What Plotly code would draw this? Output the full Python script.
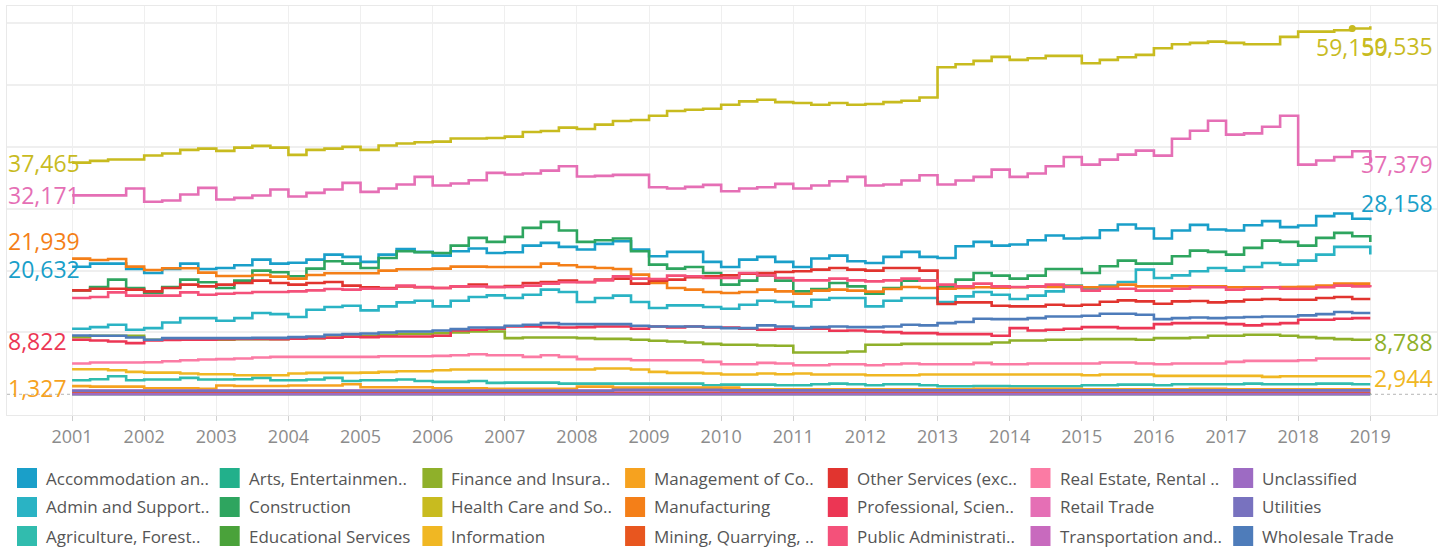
import plotly.graph_objects as go

# ---------------- data (quarterly, 2001 Q1 .. 2019 Q1) ----------------
YEARS = list(range(2001, 2020))
QUARTERS = [f"{y} Q{q}" for y in range(2001, 2019) for q in (1, 2, 3, 4)] + ["2019 Q1"]

INDUSTRIES = [
    "Accommodation and Food Services", "Admin and Support and Waste Management",
    "Agriculture, Forestry, Fishing and Hunting", "Arts, Entertainment, and Recreation",
    "Construction", "Educational Services", "Finance and Insurance",
    "Health Care and Social Assistance", "Information", "Management of Companies and Enterprises",
    "Manufacturing", "Mining, Quarrying, and Oil and Gas Extraction",
    "Other Services (except Public Administration)", "Professional, Scientific, and Technical Services",
    "Public Administration", "Real Estate, Rental and Leasing", "Retail Trade",
    "Transportation and Warehousing", "Unclassified", "Utilities", "Wholesale Trade",
]
LEGEND_LABELS = [
    "Accommodation an..", "Admin and Support..", "Agriculture, Forest..",
    "Arts, Entertainmen..", "Construction", "Educational Services",
    "Finance and Insura..", "Health Care and So..", "Information",
    "Management of Co..", "Manufacturing", "Mining, Quarrying, ..",
    "Other Services (exc..", "Professional, Scien..", "Public Administrati..",
    "Real Estate, Rental ..", "Retail Trade", "Transportation and..",
    "Unclassified", "Utilities", "Wholesale Trade",
]
COLORS = [
    "#1a9fc9", "#2ab3c4", "#31bcae", "#22b08b", "#2ea55f", "#4aa23a", "#8fb02a",
    "#c8bb1f", "#f0b723", "#f6a21f", "#f47f18", "#e8561f", "#e1342f", "#ec3654",
    "#f4517a", "#fb7ba4", "#e56fb5", "#c86abe", "#9d6bc3", "#7872bf", "#4e7cba",
]

accommodation = [
    20632, 21140, 21140, 20270, 19620, 20270, 21140, 20270, 20430, 20860, 21780, 21140,
    21270, 21780, 22590, 22220, 21410, 22590, 23510, 23030, 22430, 23130, 23570, 22860,
    22970, 24050, 24490, 23840, 23410, 24320, 24760, 23410, 22320, 23030, 23030, 21410,
    20590, 21780, 22220, 21410, 20590, 21950, 22430, 21510, 21240, 22220, 23030, 22220,
    22050, 23950, 24650, 24050, 24220, 24920, 25680, 25190, 25300, 26540, 27460, 26810,
    25190, 26490, 27400, 26650, 26490, 27350, 28000, 27030, 27300, 28810, 29240, 28380,
    28158]
admin_support = [
    10600, 10870, 11240, 10430, 10700, 11620, 12320, 12320, 11890, 12320, 13140, 12970,
    12490, 13680, 14110, 14320, 13570, 14220, 14870, 15140, 14220, 15140, 15730, 16000,
    15570, 16110, 16920, 16540, 14920, 15570, 15950, 14920, 13950, 14380, 14380, 14110,
    13840, 14490, 15140, 14920, 14220, 15300, 15570, 15570, 14220, 15140, 15570, 15570,
    14920, 15840, 16540, 16110, 15410, 15950, 16650, 17570, 17030, 17570, 18160, 20160,
    18810, 19240, 19890, 20430, 20000, 20590, 21240, 20970, 21620, 22590, 23840, 23840,
    22590]
agriculture = [
    2270, 2430, 2920, 2270, 2380, 2380, 2650, 2380, 2380, 2430, 2650, 2270,
    2270, 2380, 2650, 2160, 2270, 2270, 2380, 2160, 2000, 2000, 2160, 1840,
    1890, 1890, 1890, 1730, 1730, 1730, 1730, 1730, 1730, 1730, 1730, 1460,
    1570, 1570, 1570, 1460, 1460, 1620, 1730, 1620, 1460, 1620, 1620, 1460,
    1300, 1300, 1350, 1350, 1300, 1300, 1300, 1300, 1460, 1460, 1570, 1570,
    1460, 1620, 1620, 1620, 1620, 1730, 1620, 1620, 1620, 1730, 1730, 1620,
    1620]
arts = [
    60, 60, 60, 60, 60, 60, 60, 60, 60, 60, 60, 60, 60, 60, 60, 60, 60, 60, 60, 60,
    60, 60, 60, 60, 60, 60, 60, 60, 60, 60, 60, 60, 60, 60, 60, 60, 60, 60, 60, 60,
    60, 60, 60, 60, 60, 60, 60, 60, 60, 60, 60, 60, 60, 60, 60, 60, 60, 60, 60, 60,
    60, 60, 60, 60, 60, 60, 60, 60, 60, 60, 60, 60, 60]
construction = [
    16800, 17350, 18540, 17190, 16380, 17350, 18540, 18110, 17190, 18380, 20000, 19730,
    19080, 20320, 21510, 21140, 20430, 22050, 23130, 22970, 22860, 24050, 25300, 24650,
    25460, 26920, 27890, 26490, 24650, 24920, 25190, 23130, 20970, 20320, 20590, 19620,
    17730, 18380, 19190, 18380, 16650, 17030, 18000, 17460, 16270, 17190, 18380, 18380,
    17350, 18540, 19620, 19190, 18700, 19190, 20270, 20270, 19620, 20700, 21620, 21140,
    21140, 22320, 23240, 23030, 22590, 23680, 24860, 24650, 24050, 25300, 26110, 25570,
    24650]
educational = [
    40, 40, 40, 40, 40, 40, 40, 40, 40, 40, 40, 40, 40, 40, 40, 40, 40, 40, 40, 40,
    40, 40, 40, 40, 40, 40, 40, 40, 40, 40, 40, 40, 40, 40, 40, 40, 40, 40, 40, 40,
    40, 40, 40, 40, 40, 40, 40, 40, 40, 40, 40, 40, 40, 40, 40, 40, 40, 40, 40, 40,
    40, 40, 40, 40, 40, 40, 40, 40, 40, 40, 40, 40, 40]
finance = [
    9240, 9460, 9460, 9460, 8810, 8810, 8810, 8810, 8810, 8920, 8920, 8920,
    9080, 9080, 9190, 9350, 9460, 9620, 9780, 9780, 9890, 10000, 10160, 10160,
    9080, 9190, 9190, 9190, 9080, 8970, 8970, 8810, 8650, 8540, 8380, 8160,
    8000, 8000, 7890, 7840, 6760, 6760, 6760, 6920, 8000, 8000, 8160, 8160,
    8160, 8160, 8160, 8380, 8700, 8700, 8810, 8810, 8920, 8920, 8920, 8810,
    9080, 9080, 9190, 9460, 9460, 9620, 9620, 9460, 9240, 9080, 8920, 8810,
    8788]
health = [
    37465, 37750, 37970, 37970, 38610, 38940, 39530, 39740, 39370, 39900, 40170, 39900,
    38720, 39530, 39740, 40010, 39530, 40230, 40550, 40760, 40870, 41360, 41360, 41460,
    41680, 42430, 42590, 43130, 42910, 43610, 44200, 44370, 45060, 45820, 46030, 46190,
    46830, 47370, 47640, 47260, 47100, 46830, 47100, 46830, 46940, 47260, 47470, 48010,
    52900, 53390, 53920, 54570, 54090, 54360, 54730, 54730, 53550, 54090, 54520, 54890,
    55970, 56610, 56830, 57040, 56830, 56610, 56610, 57800, 58660, 58660, 58870, 59150,
    59535]
information = [
    4050, 4050, 3890, 3620, 3510, 3510, 3350, 3240, 3240, 3080, 3080, 3080,
    3350, 3460, 3460, 3460, 3510, 3620, 3730, 3730, 3890, 4000, 4000, 4000,
    4000, 4000, 4000, 4000, 4000, 4160, 4160, 4000, 3620, 3460, 3460, 3350,
    3190, 3190, 3350, 3240, 3350, 3190, 3190, 3190, 3080, 3080, 3080, 3190,
    3190, 3190, 3190, 3190, 3190, 3190, 3190, 3190, 3080, 3190, 3190, 3190,
    2970, 2970, 2970, 2970, 2970, 2970, 2810, 2920, 2920, 2920, 2920, 2920,
    2944]
management = [
    1327, 1240, 1240, 1240, 970, 970, 970, 870, 1410, 1350, 1350, 1350,
    1410, 1410, 1410, 1620, 1140, 1140, 1140, 1140, 970, 970, 970, 870,
    870, 870, 870, 870, 1240, 1240, 1080, 1080, 1080, 1080, 1080, 1080,
    1080, 810, 810, 810, 810, 810, 810, 810, 810, 810, 810, 810,
    810, 810, 870, 870, 870, 870, 870, 870, 810, 810, 810, 810,
    810, 810, 870, 870, 810, 810, 810, 810, 810, 810, 810, 810,
    810]
manufacturing = [
    21939, 21730, 21890, 20650, 20110, 20380, 20380, 19680, 19140, 19140, 19300, 19030,
    18700, 19300, 19570, 19570, 19570, 20000, 20220, 20220, 20330, 20650, 20650, 20590,
    20590, 20590, 21140, 20860, 20590, 20430, 20270, 19350, 18000, 17190, 16920, 16540,
    16380, 16540, 16920, 16650, 16270, 16760, 16920, 16760, 16600, 17030, 17350, 17190,
    17080, 17200, 17300, 17250, 17300, 17400, 17350, 17500, 17300, 17400, 17730, 17460,
    17460, 17460, 17460, 17460, 17300, 17300, 17300, 17350, 17400, 17600, 17890, 17890,
    17890]
mining = [
    250, 250, 250, 250, 250, 250, 250, 250, 250, 250, 250, 250, 250, 250, 250, 250,
    250, 250, 250, 250, 250, 250, 250, 250, 250, 250, 250, 250, 250, 250, 250, 250,
    250, 250, 250, 250, 250, 250, 250, 250, 250, 250, 250, 250, 250, 250, 250, 250,
    250, 250, 250, 250, 250, 250, 250, 250, 250, 250, 250, 250, 250, 250, 250, 250,
    250, 250, 250, 250, 250, 250, 250, 250, 250]
other_services = [
    16810, 17080, 17080, 16920, 16650, 17190, 17730, 17460, 17730, 18000, 18380, 18000,
    17730, 18000, 18160, 17570, 17300, 17190, 17460, 17300, 17190, 17460, 17730, 17350,
    17500, 18000, 18160, 18380, 18160, 18540, 18700, 17890, 18380, 18540, 18920, 19080,
    19240, 19510, 19620, 19780, 19890, 20160, 20430, 20160, 20000, 20430, 20430, 20000,
    14600, 14870, 14870, 14320, 14220, 14220, 14490, 14320, 14490, 14970, 15190, 15030,
    14650, 15030, 15080, 14870, 15030, 15300, 15410, 15300, 15300, 15570, 15730, 15410,
    15410]
professional = [
    8822, 8700, 8540, 8270, 8700, 8800, 8820, 8820, 8900, 8950, 8950, 8920,
    9000, 9080, 9150, 9300, 9250, 9350, 9350, 9350, 9460, 10320, 10430, 10590,
    10970, 10970, 10870, 10810, 10870, 10970, 10970, 10600, 10970, 10810, 10970, 10810,
    10810, 10600, 10430, 10600, 10600, 10600, 10270, 10320, 10160, 10050, 9890, 9890,
    9730, 9730, 9730, 9460, 10700, 10320, 10430, 10590, 10870, 10870, 10700, 10700,
    11350, 11510, 11510, 11510, 11350, 11140, 11350, 11510, 12050, 12050, 12220, 12320,
    12320]
public_admin = [
    15570, 15730, 16490, 15950, 15950, 15950, 16490, 16110, 16270, 16380, 16540, 16540,
    16650, 16810, 17030, 16920, 17080, 17080, 17570, 17350, 17190, 17460, 17460, 17350,
    17350, 17570, 17890, 18110, 18110, 18430, 19080, 18700, 18650, 19190, 19080, 18810,
    18810, 19620, 19240, 18810, 18430, 18430, 18700, 18430, 18270, 18430, 18700, 18380,
    17730, 17460, 17890, 17460, 17350, 17460, 17730, 17350, 16760, 17080, 17080, 16760,
    16760, 17080, 17300, 17300, 16920, 17080, 17300, 17080, 17080, 17300, 17570, 17460,
    17300]
real_estate = [
    4970, 5130, 5130, 5130, 5190, 5350, 5510, 5620, 5680, 5780, 5950, 6050,
    6050, 6050, 6050, 6050, 6050, 6160, 6160, 6160, 6210, 6320, 6480, 6320,
    6320, 6050, 6320, 6050, 5680, 5680, 5680, 5510, 5510, 5510, 5510, 5240,
    4860, 4860, 5080, 4970, 4700, 4700, 4860, 4860, 4700, 4860, 4970, 4860,
    4860, 4860, 5080, 4860, 4860, 4970, 4970, 4970, 4970, 5130, 5130, 4970,
    4860, 4970, 4970, 4970, 5240, 5400, 5400, 5400, 5510, 5780, 5780, 5780,
    5780]
retail = [
    32171, 32171, 32171, 33280, 31130, 31340, 32310, 33390, 31510, 31770, 32150, 33120,
    31990, 32580, 33120, 34190, 32740, 33280, 33930, 35160, 33760, 34090, 34620, 35810,
    35540, 35700, 36180, 36880, 35220, 35320, 35480, 35480, 33490, 33280, 33550, 33870,
    32850, 33280, 33490, 34030, 33280, 33760, 34460, 35160, 33760, 33930, 34570, 35430,
    33930, 34570, 35160, 36340, 35160, 35700, 36880, 38390, 37150, 37960, 38760, 39410,
    38600, 41340, 42630, 44240, 41990, 42200, 43280, 45050, 37150, 37800, 38390, 39300,
    37379]
transportation = [
    620, 620, 620, 620, 620, 620, 620, 620, 620, 620, 620, 620, 620, 620, 620, 620,
    620, 620, 620, 620, 620, 620, 620, 620, 620, 620, 620, 620, 620, 620, 620, 620,
    620, 620, 620, 620, 620, 620, 620, 620, 620, 620, 620, 620, 620, 620, 620, 620,
    620, 620, 620, 620, 620, 620, 620, 620, 620, 620, 620, 620, 620, 620, 620, 620,
    620, 620, 620, 620, 620, 620, 620, 620, 620]
unclassified = [
    20, 20, 20, 20, 20, 20, 20, 20, 20, 20, 20, 20, 20, 20, 20, 20, 20, 20, 20, 20,
    20, 20, 20, 20, 20, 20, 20, 20, 20, 20, 20, 20, 20, 20, 20, 20, 20, 20, 20, 20,
    20, 20, 20, 20, 20, 20, 20, 20, 20, 20, 20, 20, 20, 20, 20, 20, 20, 20, 20, 20,
    20, 20, 20, 20, 20, 20, 20, 20, 20, 20, 20, 20, 20]
utilities = [
    560, 560, 560, 560, 560, 560, 560, 560, 560, 560, 560, 560,
    560, 560, 560, 560, 560, 560, 560, 560, 560, 560, 560, 560,
    560, 560, 560, 560, 560, 560, 720, 720, 720, 720, 720, 720,
    640, 640, 640, 640, 640, 640, 640, 640, 640, 640, 640, 640,
    640, 640, 640, 640, 640, 640, 640, 640, 640, 640, 640, 640,
    640, 640, 640, 640, 640, 640, 640, 640, 640, 640, 640, 640,
    640]
wholesale = [
    9510, 9460, 9460, 9190, 8810, 9080, 9080, 9080, 9080, 9080, 9130, 9130,
    9240, 9350, 9620, 9730, 9840, 10000, 10160, 10160, 10320, 10540, 10810, 10810,
    11080, 11240, 11510, 11350, 11350, 11350, 11350, 11080, 10970, 10970, 10970, 10870,
    10700, 10700, 11140, 10970, 10700, 10870, 10970, 10870, 10870, 10970, 11240, 11140,
    11510, 11680, 12220, 12160, 12160, 12320, 12590, 12590, 12700, 13030, 13030, 12870,
    12160, 12320, 12430, 12320, 12430, 12490, 12590, 12590, 12760, 12970, 13300, 13140,
    13140]

SERIES = [accommodation, admin_support, agriculture, arts, construction, educational,
          finance, health, information, management, manufacturing, mining,
          other_services, professional, public_admin, real_estate, retail,
          transportation, unclassified, utilities, wholesale]
for s in SERIES:
    assert len(s) == len(QUARTERS), len(s)

# numeric x position of each quarter (start of quarter, in years)
XQ = [int(q[:4]) + (int(q[-1]) - 1) / 4 for q in QUARTERS]

FONT = "'Open Sans', Lato, Roboto, sans-serif"

# ---------------- figure ----------------
fig = go.Figure()
for name, vals, col in zip(INDUSTRIES, SERIES, COLORS):
    fig.add_trace(go.Scatter(
        x=XQ, y=vals, mode="lines", name=name, showlegend=False,
        line=dict(color=col, width=2.6, shape="hv"),
        hovertemplate="%{y:,}<extra>" + name + "</extra>"))

# highlighted point on health care
hidx = INDUSTRIES.index("Health Care and Social Assistance")
fig.add_trace(go.Scatter(x=[XQ[-2]], y=[health[-2]], mode="markers", showlegend=False,
                         marker=dict(color=COLORS[hidx], size=7)))

# geometry helpers (plot area in pixels)
PL, PR_, PT, PB = 7, 1437, 6, 415


def px_x(px):
    return (px - PL) / (PR_ - PL)


def px_y(py):
    return (PB - py) / (PB - PT)


annotations = []


def color_of(series):
    return COLORS[SERIES.index(series)]


LABEL_SIZE = 23

# start labels (left)
for series, ysh in [(health, 0), (retail, 0), (manufacturing, 18), (accommodation, -2),
                    (professional, -1), (management, -2)]:
    annotations.append(dict(
        x=0, xref="paper", xanchor="left", xshift=0, y=series[0], yref="y",
        yanchor="middle", yshift=ysh, text=f"{series[0]:,}", showarrow=False,
        borderpad=0, font=dict(family=FONT, size=LABEL_SIZE, color=color_of(series))))

# end labels (right)
for series, ysh in [(health, -20), (retail, -1), (accommodation, 17), (finance, -2),
                    (information, -2)]:
    annotations.append(dict(
        x=1, xref="paper", xanchor="right", xshift=-3, y=series[-1], yref="y",
        yanchor="middle", yshift=ysh, text=f"{series[-1]:,}", showarrow=False,
        borderpad=0, font=dict(family=FONT, size=LABEL_SIZE, color=color_of(series))))
# highlighted health point label
annotations.append(dict(
    x=XQ[-2], xref="x", xanchor="center", y=health[-2], yref="y", yanchor="middle",
    yshift=-18, text=f"{health[-2]:,}", showarrow=False, borderpad=0,
    font=dict(family=FONT, size=LABEL_SIZE, color=COLORS[hidx])))

# manual legend: 7 columns x 3 rows, column-major
shapes = []
COL_X0, COL_DX = 17, 202.7
ROW_Y = [478, 507, 536]
for i, (lab, col) in enumerate(zip(LEGEND_LABELS, COLORS)):
    c, r = divmod(i, 3)
    sx = COL_X0 + c * COL_DX
    cy = ROW_Y[r]
    shapes.append(dict(type="rect", xref="paper", yref="paper",
                       x0=px_x(sx), x1=px_x(sx + 20), y0=px_y(cy + 10), y1=px_y(cy - 10),
                       fillcolor=col, line=dict(width=0), layer="above"))
    annotations.append(dict(x=px_x(sx + 28), xref="paper", xanchor="left",
                            y=px_y(cy), yref="paper", yanchor="middle",
                            text=lab, showarrow=False, borderpad=0,
                            font=dict(family=FONT, size=17, color="#555555")))

# dotted zero line
shapes.append(dict(type="line", xref="paper", x0=0, x1=1, yref="y", y0=0, y1=0,
                   line=dict(color="#b5b5b5", width=1, dash="dot"), layer="below"))

fig.update_layout(
    width=1451, height=551,
    margin=dict(l=PL, r=1451 - PR_, t=PT, b=551 - PB, pad=0),
    paper_bgcolor="white", plot_bgcolor="white",
    showlegend=False,
    font=dict(family=FONT),
    annotations=annotations, shapes=shapes,
    xaxis=dict(range=[2000.098, 2019.925], tickmode="array", tickvals=YEARS,
               ticktext=[str(y) for y in YEARS], showgrid=True, gridcolor="#efefef",
               gridwidth=1, ticks="outside", ticklen=5, tickcolor="#d0d0d0",
               tickfont=dict(family=FONT, size=18, color="#8c8c8c"),
               showline=True, linecolor="#e9e9e9", mirror=True, zeroline=False),
    yaxis=dict(range=[-3350, 62800], tickvals=[10000, 20000, 30000, 40000, 50000, 60000],
               showticklabels=False, showgrid=True, gridcolor="#efefef", gridwidth=2,
               ticks="", showline=True, linecolor="#e9e9e9", mirror=True, zeroline=False),
)

fig.write_html(
    "out.html",
    config={"displayModeBar": False},
    post_script="document.body.style.margin='0';document.body.style.overflow='hidden';",
)
